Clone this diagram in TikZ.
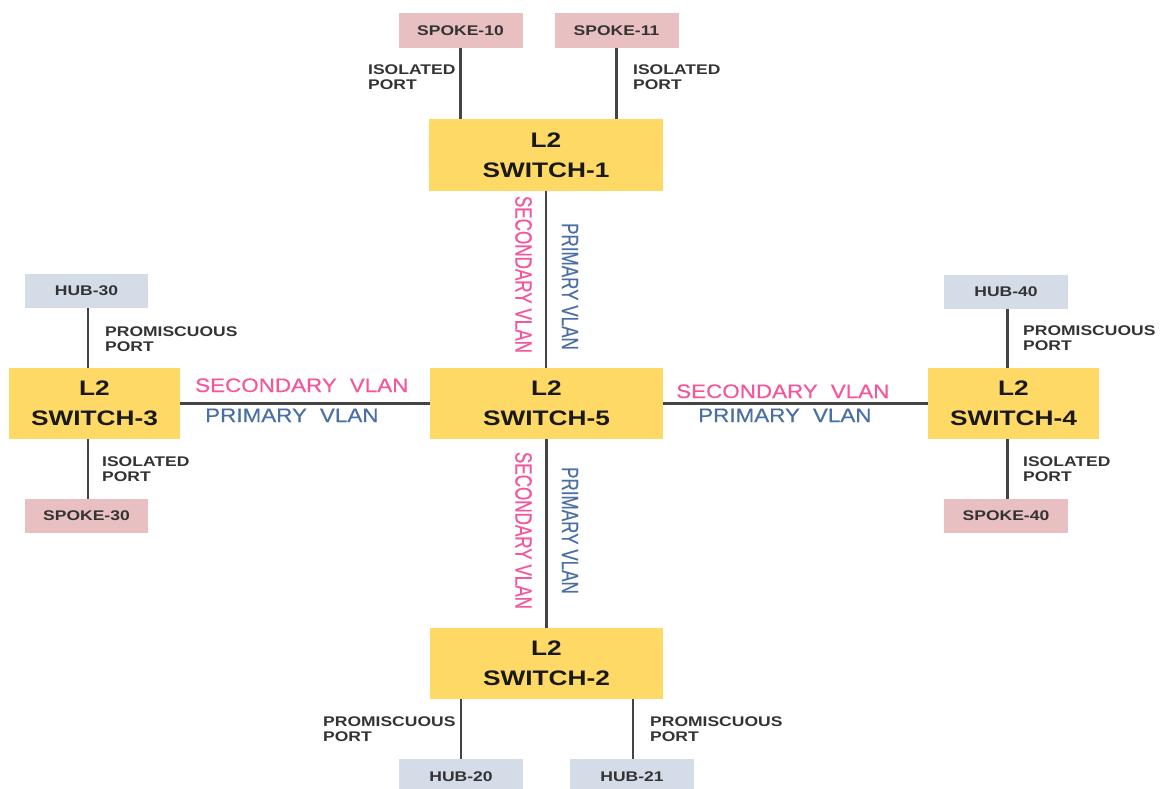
\documentclass[tikz,border=0pt]{standalone}
\usepackage{fontspec}
\setmainfont{Liberation Sans}
\newfontfamily\bfw{Liberation Sans}[FakeStretch=1.25]
\newfontfamily\rgw{Liberation Sans}[FakeStretch=1.15,FakeBold=0.4]
\newfontfamily\cdw{Liberation Sans}[FakeStretch=0.72,FakeBold=0.4]
\definecolor{swyellow}{HTML}{FFD966}
\definecolor{spokepink}{HTML}{E9C0C1}
\definecolor{hubblue}{HTML}{D4DCE8}
\definecolor{textgray}{HTML}{333333}
\definecolor{linegray}{HTML}{444444}
\definecolor{vpink}{HTML}{F5559B}
\definecolor{vblue}{HTML}{4A6FA5}
\tikzset{
  swbox/.style={fill=swyellow, minimum width=233pt, minimum height=71pt, inner sep=0pt,
    font=\bfw\bfseries\fontsize{21}{30}\selectfont, align=center, text=black!90},
  swsmall/.style={swbox, minimum width=171pt},
  spokebox/.style={fill=spokepink, minimum width=124pt, minimum height=35pt, inner sep=0pt,
    font=\bfw\bfseries\fontsize{14}{16}\selectfont, text=textgray},
  hubbox/.style={spokebox, fill=hubblue},
  portlbl/.style={anchor=north west, inner sep=0pt, align=left,
    font=\bfw\bfseries\fontsize{14}{14.5}\selectfont, text=textgray},
  pinkh/.style={anchor=base west, inner sep=0pt, font=\rgw\fontsize{19.5}{20}\selectfont, text=vpink},
  blueh/.style={pinkh, text=vblue},
  pinkv/.style={rotate=-90, inner sep=0pt, font=\cdw\fontsize{23.7}{24}\selectfont, text=vpink},
  bluev/.style={pinkv, text=vblue},
  link/.style={draw=linegray, line width=2.2pt}
}
\begin{document}
\begin{tikzpicture}[x=1pt,y=-1pt]
\useasboundingbox (0,0) rectangle (1160,789);
% switches
\node[swbox, minimum width=234pt, minimum height=72pt] (sw1) at (546,155) {L2\\SWITCH-1};
\node[swbox] (sw5) at (546.5,403.5) {L2\\SWITCH-5};
\node[swbox] (sw2) at (546.5,663.5) {L2\\SWITCH-2};
\node[swsmall] (sw3) at (94.5,403.5) {L2\\SWITCH-3};
\node[swsmall] (sw4) at (1013.5,403.5) {L2\\SWITCH-4};
% end devices
\node[spokebox] (sp10) at (460.5,30.5) {SPOKE-10};
\node[spokebox] (sp11) at (616.5,30.5) {SPOKE-11};
\node[hubbox, minimum width=123pt, minimum height=34pt] (hub30) at (86.5,291) {HUB-30};
\node[spokebox, minimum width=123pt, minimum height=34pt] (sp30) at (86.5,516) {SPOKE-30};
\node[hubbox, minimum height=34pt] (hub40) at (1006,291.5) {HUB-40};
\node[spokebox, minimum height=34pt] (sp40) at (1006,516) {SPOKE-40};
\node[hubbox] (hub20) at (461,776.5) {HUB-20};
\node[hubbox] (hub21) at (632,776.5) {HUB-21};
% links
\draw[link] (sp10.south) -- (sp10.south |- sw1.north);
\draw[link] (sp11.south) -- (sp11.south |- sw1.north);
\draw[link] ([xshift=1.5pt]hub30.south) -- ([xshift=1.5pt]hub30.south |- sw3.north);
\draw[link] ([xshift=1.5pt]sp30.north) -- ([xshift=1.5pt]sp30.north |- sw3.south);
\draw[link] ([xshift=1.5pt]hub40.south) -- ([xshift=1.5pt]hub40.south |- sw4.north);
\draw[link] ([xshift=1.5pt]sp40.north) -- ([xshift=1.5pt]sp40.north |- sw4.south);
\draw[link] (hub20.north) -- (hub20.north |- sw2.south);
\draw[link] ([xshift=1pt]hub21.north) -- ([xshift=1pt]hub21.north |- sw2.south);
\draw[link] (sw1.south) -- (sw1.south |- sw5.north);
\draw[link] (sw5.south) -- (sw2.north);
\draw[link] (sw3.east) -- (sw5.west);
\draw[link] (sw5.east) -- (sw4.west);
% VLAN labels
\node[pinkv] (v1s) at (523.5,274.5) {SECONDARY VLAN};
\node[bluev] (v1p) at (570,286.5) {PRIMARY VLAN};
\node[pinkv] (v2s) at (523.5,530.5) {SECONDARY VLAN};
\node[bluev] (v2p) at (570,530.5) {PRIMARY VLAN};
\node[pinkh] (h3s) at (195,392) {SECONDARY\hspace{13pt}VLAN};
\node[blueh] (h3p) at (205,422) {PRIMARY\hspace{13pt}VLAN};
\node[pinkh] (h4s) at (676,398) {SECONDARY\hspace{13pt}VLAN};
\node[blueh] (h4p) at (698,422) {PRIMARY\hspace{13pt}VLAN};
% port labels
\node[portlbl] (p10) at (368,65) {ISOLATED\\PORT};
\node[portlbl] (p11) at (633,65) {ISOLATED\\PORT};
\node[portlbl] (p30h) at (105,327) {PROMISCUOUS\\PORT};
\node[portlbl] (p30s) at (102,457) {ISOLATED\\PORT};
\node[portlbl] (p40h) at (1023,326) {PROMISCUOUS\\PORT};
\node[portlbl] (p40s) at (1023,457) {ISOLATED\\PORT};
\node[portlbl] (p20) at (323,717) {PROMISCUOUS\\PORT};
\node[portlbl] (p21) at (650,717) {PROMISCUOUS\\PORT};
\end{tikzpicture}
\end{document}
